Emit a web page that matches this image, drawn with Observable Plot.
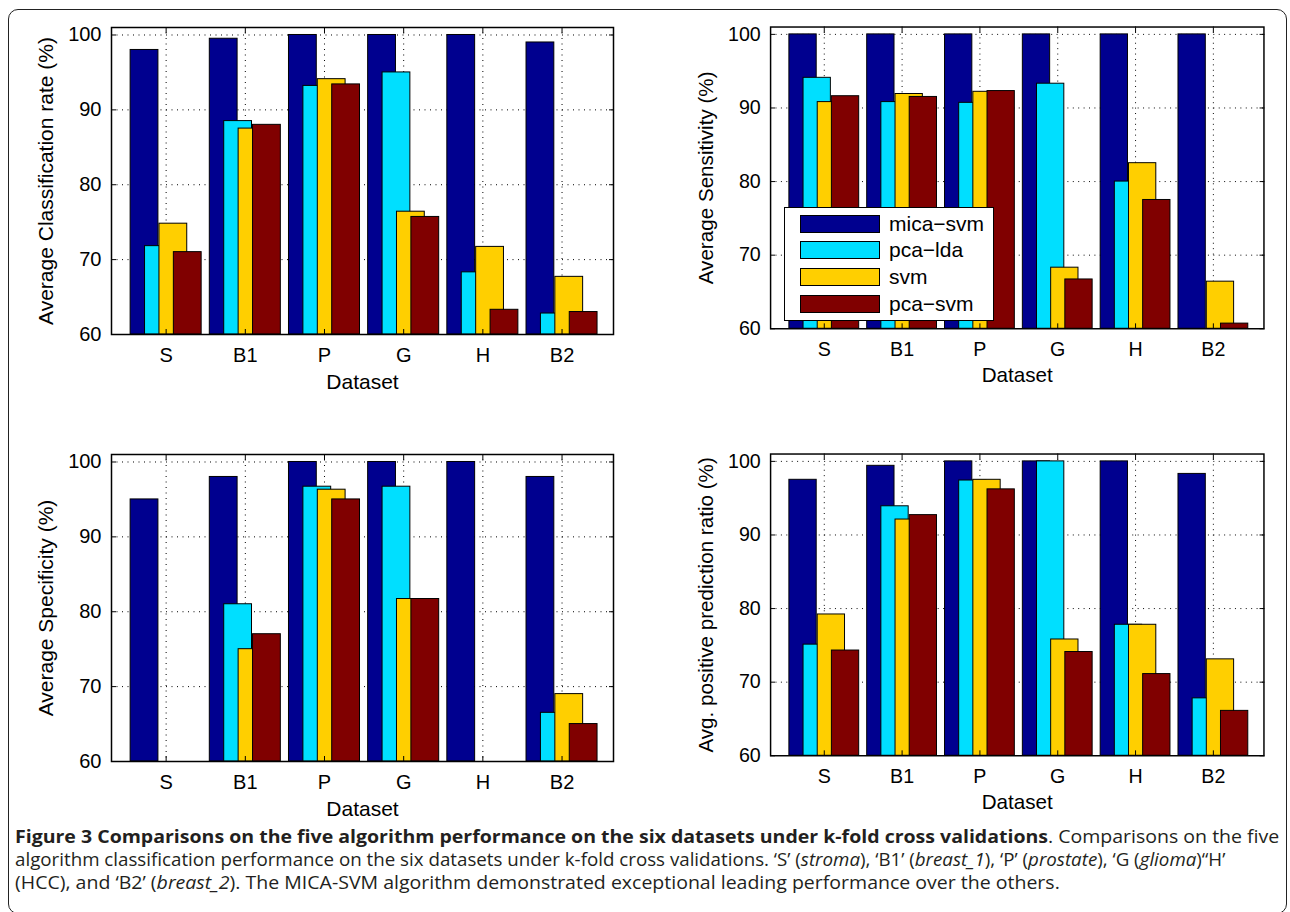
<!DOCTYPE html>
<html>
<head>
<meta charset="utf-8">
<script src="https://cdn.jsdelivr.net/npm/d3@7"></script>
<script src="https://cdn.jsdelivr.net/npm/@observablehq/plot@0.6"></script>
<style>
  html, body { margin: 0; padding: 0; width: 1290px; height: 912px; overflow: hidden; background: #fff; }
  #frame { position: absolute; left: 8px; top: 9px; width: 1279px; height: 905px; border: 1.5px solid #222; border-radius: 10px; box-sizing: border-box; }
  .panel { position: absolute; }
  #legend { position: absolute; left: 784px; top: 207px; width: 210px; height: 114px; box-sizing: border-box;
            border: 1.5px solid #000; background: #fff; font-family: "Liberation Sans", Arial, sans-serif; font-size: 21px; color: #000; }
  .sw { position: absolute; left: 15px; width: 80px; height: 18px; box-sizing: border-box; border: 1px solid #000; }
  .lb { position: absolute; left: 104px; height: 18px; line-height: 18px; white-space: nowrap; }
  #caption { position: absolute; left: 15px; top: 824.5px; font-family: "Open Sans", sans-serif; font-size: 17.5px;
             line-height: 23px; color: #231f20; white-space: nowrap; transform: scaleX(1.115); transform-origin: 0 0; }
  #caption .narrow { display: inline-block; transform: scaleX(0.96); transform-origin: 0 0; }
</style>
</head>
<body>
<div id="frame"></div>
<div id="p1" class="panel" style="left:0px;top:0px"></div>
<div id="p2" class="panel" style="left:661px;top:0px"></div>
<div id="p3" class="panel" style="left:0px;top:426.5px"></div>
<div id="p4" class="panel" style="left:661px;top:426.5px"></div>
<div id="legend"></div>
<div id="caption">
  <div><b>Figure 3 Comparisons on the five algorithm performance on the six datasets under k-fold cross validations</b>. Comparisons on the five</div>
  <div><span class="narrow">algorithm classification performance on the six datasets under k-fold cross validations. ‘S’ (<i>stroma</i>), ‘B1’ (<i>breast_1</i>), ‘P’ (<i>prostate</i>), ‘G (<i>glioma</i>)“H’</span></div>
  <div>(HCC), and ‘B2’ (<i>breast_2</i>). The MICA-SVM algorithm demonstrated exceptional leading performance over the others.</div>
</div>
<script>
// ---------- data ----------
const datasets = ["S", "B1", "P", "G", "H", "B2"];
const methods = ["mica−svm", "pca−lda", "svm", "pca−svm"];
const colors = ["#00008F", "#00DFFF", "#FFCF00", "#800000"];
const yTicks = [60, 70, 80, 90, 100];

// Average Classification rate (%)
const rateMica   = [98.0, 99.5, 100, 100, 100, 99.0];
const rateLda    = [71.8, 88.5, 93.2, 95.0, 68.3, 62.8];
const rateSvm    = [74.8, 87.5, 94.1, 76.4, 71.7, 67.7];
const ratePcaSvm = [71.0, 88.0, 93.4, 75.7, 63.3, 63.0];

// Average Sensitivity (%)
const sensMica   = [100, 100, 100, 100, 100, 100];
const sensLda    = [94.1, 90.8, 90.7, 93.3, 80.0, null];
const sensSvm    = [90.8, 91.9, 92.2, 68.3, 82.5, 66.4];
const sensPcaSvm = [91.6, 91.5, 92.3, 66.7, 77.5, 60.7];

// Average Specificity (%)
const specMica   = [95.0, 98.0, 100, 100, 100, 98.0];
const specLda    = [null, 81.0, 96.7, 96.7, null, 66.5];
const specSvm    = [null, 75.0, 96.3, 81.7, null, 69.0];
const specPcaSvm = [null, 77.0, 95.0, 81.7, null, 65.0];

// Avg. positive prediction ratio (%)
const ppvMica   = [97.5, 99.4, 100, 100, 100, 98.3];
const ppvLda    = [75.1, 93.9, 97.4, 100, 77.8, 67.8];
const ppvSvm    = [79.2, 92.1, 97.5, 75.8, 77.8, 73.1];
const ppvPcaSvm = [74.3, 92.7, 96.2, 74.1, 71.1, 66.1];

// ---------- drawing ----------
const positions = datasets.map((d, i) => i + 1);
const step = 0.182, barW = 0.351;

function rows(series) {
  const out = [];
  series.forEach((vals, s) => vals.forEach((v, i) => {
    if (v != null) out.push({pos: i + 1, s, value: v});
  }));
  return out;
}

function panel(series, ylabel) {
  const data = rows(series);
  const dots = {stroke: "#000", strokeOpacity: 1, strokeWidth: 1, strokeDasharray: "1,4.5"};
  return Plot.plot({
    width: 640, height: 400,
    marginLeft: 111, marginRight: 27, marginTop: 27, marginBottom: 66,
    style: {fontFamily: "'Liberation Sans', Arial, sans-serif", fontSize: "20px", background: "none", overflow: "visible", color: "#000"},
    x: {type: "linear", domain: [0.31, 6.65]},
    y: {domain: [60, 101]},
    color: {type: "ordinal", domain: [0, 1, 2, 3], range: colors},
    marks: [
      Plot.gridX({ticks: positions, ...dots}),
      Plot.gridY({ticks: [70, 80, 90, 100], ...dots}),
      Plot.rect(data, {
        x1: d => d.pos + (d.s - 1.5) * step - barW / 2,
        x2: d => d.pos + (d.s - 1.5) * step + barW / 2,
        y1: 60, y2: "value", fill: "s", stroke: "#000", strokeWidth: 1
      }),
      Plot.frame({stroke: "#000", strokeWidth: 1.5}),
      Plot.axisX({anchor: "bottom", ticks: positions, tickFormat: i => datasets[i - 1], tickSize: -5, tickPadding: 18.5, label: null, fontSize: 20}),
      Plot.axisX({anchor: "top", ticks: positions, tickFormat: () => "", tickSize: -5, label: null}),
      Plot.axisY({anchor: "left", ticks: yTicks, tickSize: -5, tickPadding: 15, label: null, fontSize: 20}),
      Plot.axisY({anchor: "right", ticks: yTicks, tickFormat: () => "", tickSize: -5, label: null}),
      Plot.text([ylabel], {text: d => d, frameAnchor: "left", textAnchor: "middle", lineAnchor: "middle", rotate: -90, dx: -65.5, fontSize: 21}),
      Plot.text(["Dataset"], {text: d => d, frameAnchor: "bottom", textAnchor: "middle", lineAnchor: "middle", dy: 47.5, fontSize: 21})
    ]
  });
}

document.getElementById("p1").append(panel([rateMica, rateLda, rateSvm, ratePcaSvm], "Average Classification rate (%)"));
document.getElementById("p2").append(panel([sensMica, sensLda, sensSvm, sensPcaSvm], "Average Sensitivity (%)"));
document.getElementById("p3").append(panel([specMica, specLda, specSvm, specPcaSvm], "Average Specificity (%)"));
document.getElementById("p4").append(panel([ppvMica, ppvLda, ppvSvm, ppvPcaSvm], "Avg. positive prediction ratio (%)"));

// legend (inside the Sensitivity panel)
const legend = document.getElementById("legend");
methods.forEach((m, i) => {
  const top = 6.5 + i * 26.7;
  const sw = document.createElement("div");
  sw.className = "sw"; sw.style.top = top + "px"; sw.style.background = colors[i];
  const lb = document.createElement("div");
  lb.className = "lb"; lb.style.top = top + "px"; lb.textContent = m;
  legend.append(sw, lb);
});
</script>
</body>
</html>
